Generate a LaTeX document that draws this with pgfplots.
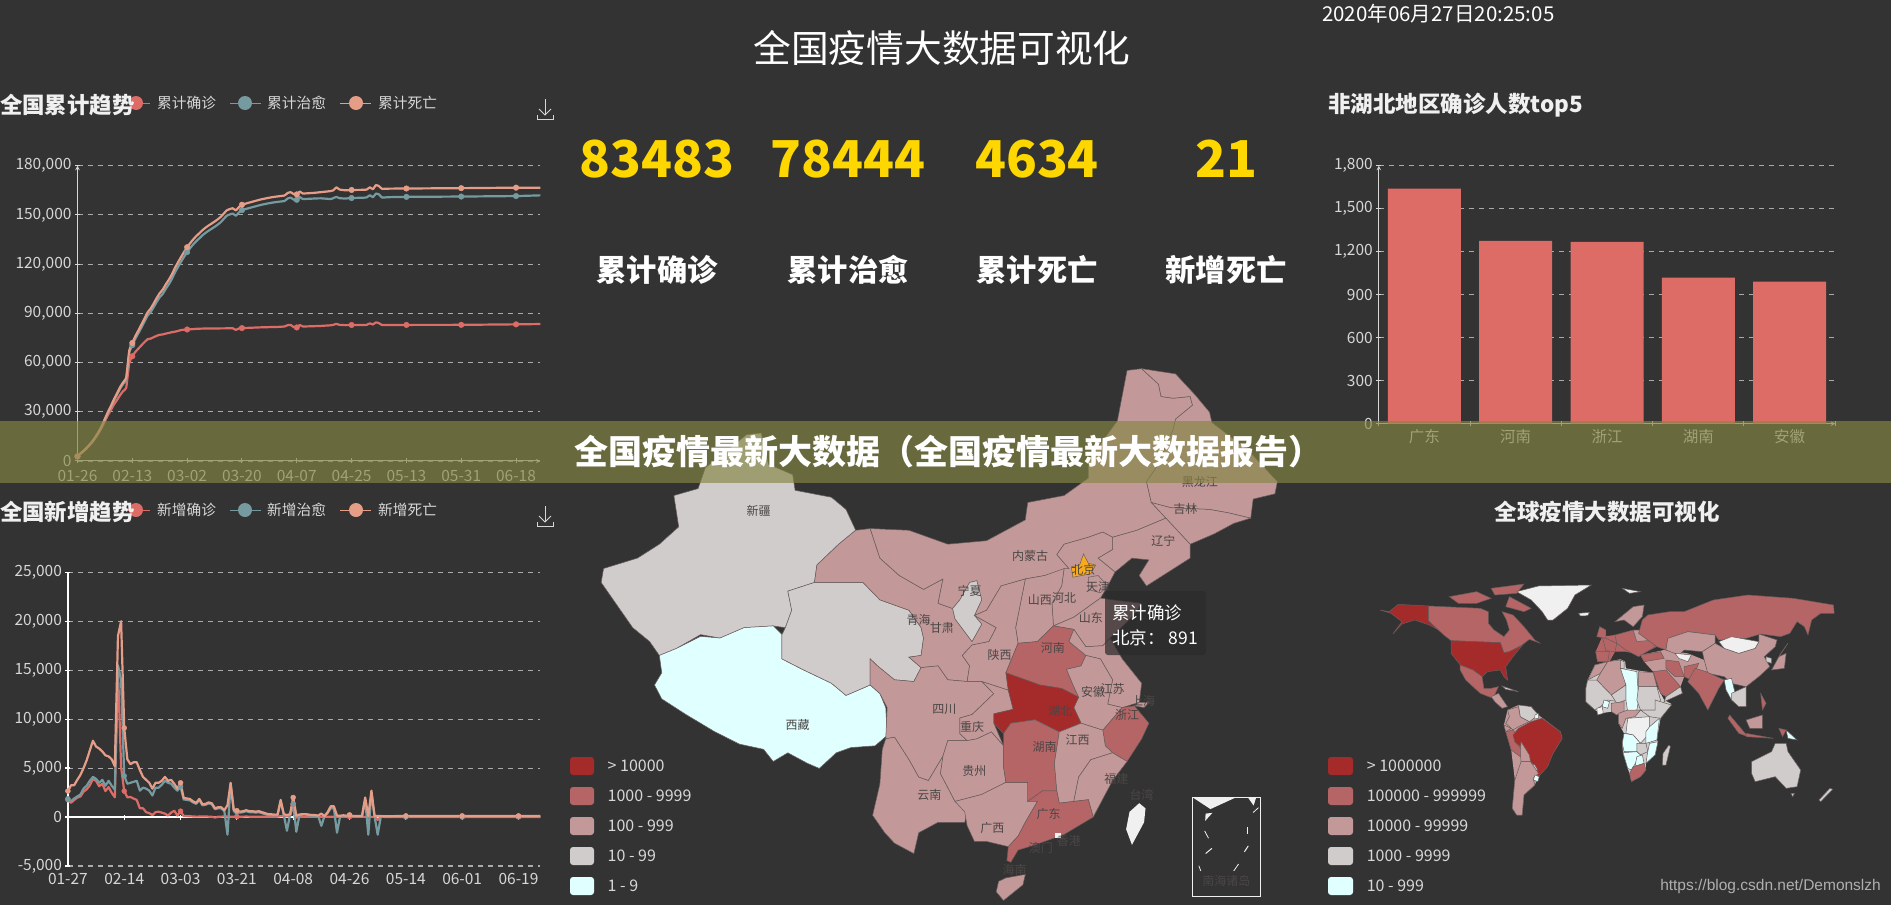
\documentclass[border=0pt]{standalone}
\usepackage{fontspec}
\usepackage{pgfplots}
\usepackage{pgfplotstable}
\pgfplotsset{compat=1.18}
\setmainfont{Noto Sans CJK SC}
\newfontfamily\urlfont{Liberation Sans}
\definecolor{bg}{RGB}{51,51,51}
\definecolor{cr}{HTML}{DD6B66}
\definecolor{ct}{HTML}{759AA0}
\definecolor{cd}{HTML}{E69D87}
\definecolor{gridc}{RGB}{170,170,170}
\definecolor{tk}{RGB}{215,215,215}
\definecolor{c1}{RGB}{165,42,42}
\definecolor{c2}{RGB}{181,101,101}
\definecolor{c3}{RGB}{194,152,152}
\definecolor{c4}{RGB}{208,204,204}
\definecolor{c5}{RGB}{224,255,255}
\definecolor{c0}{RGB}{240,240,240}
\definecolor{bd}{RGB}{105,92,92}
\definecolor{lbl}{RGB}{75,70,70}
\definecolor{gold}{RGB}{255,215,0}
\definecolor{bandc}{RGB}{134,134,68}

\pgfplotstableread{
i c t d
0 2744 2800 2856
1 4515 4580 4686
2 5974 6080 6212
3 7711 7830 8000
4 9692 9860 10073
5 11791 12040 12300
6 14380 14700 15004
7 17205 17680 18041
8 20438 21070 21495
9 24324 25200 25690
10 28018 29300 29863
11 31161 33000 33636
12 34546 37000 37722
13 37198 40500 41311
14 40171 44100 45008
15 42638 47000 48016
16 44653 49700 50813
17 59804 66000 67367
18 63851 70574 71954
19 66492 74588 76111
20 68500 77919 79584
21 70548 81392 83162
22 72436 84988 86856
23 74185 88561 90565
24 74576 90731 92849
25 75465 93729 95965
26 76288 96947 99292
27 76936 99824 102266
28 77150 101884 104476
29 77658 104981 107644
30 78064 107809 110524
31 78497 110992 113736
32 78824 114941 117729
33 79251 118253 121088
34 79824 121449 124319
35 80026 124488 127400
36 80151 127355 130298
37 80270 129800 132800
38 80409 132000 135050
39 80552 134000 137080
40 80651 135700 138800
41 80695 137500 140630
42 80735 139000 142150
43 80754 140300 143480
44 80778 141500 144700
45 80793 142700 145900
46 80813 144000 147230
47 80824 145500 148740
48 80844 147500 150750
49 80860 149500 152760
50 80881 150300 153560
51 80894 150800 154050
52 79900 149500 152750
53 80800 151500 154780
54 81000 152900 156200
56 81150 154000 157300
58 81300 155000 158320
60 81450 156000 159330
62 81550 156800 160130
64 81650 157500 160840
66 81750 158000 161340
68 82000 158500 161850
69 82800 160000 163350
70 82900 160500 163850
71 81600 159300 162650
72 81400 159200 162500
73 82900 160900 164250
74 82000 159700 163050
78 82200 160000 163500
80 82350 160100 163900
83 82700 159700 164500
84 83000 160200 165000
85 83600 161000 166800
86 83000 160200 165500
88 82800 160000 165000
90 82900 160300 165200
94 82950 160500 165300
95 83000 160700 165500
96 83900 162000 166800
97 83200 160800 165700
98 84500 163000 168200
99 84000 162500 167500
100 82900 160600 165900
102 82900 160800 166000
108 82950 161000 166100
126 83000 161200 166300
144 83300 161500 166600
152 83483 161927 166561
}\cumtable

\pgfplotstableread{
i c t d
0 1771 1870 2650
1 1459 1600 3250
2 1737 1900 3250
3 1982 2100 3800
4 2102 2300 4300
5 2590 2900 5000
6 2829 3200 5800
7 3235 3700 6800
8 3887 4100 7800
9 3694 3900 7200
10 3143 3500 7000
11 3399 3800 6700
12 2656 3200 6300
13 3062 3700 6200
14 2478 3200 5900
15 2015 2800 5200
16 15152 15500 18500
17 5090 14000 20000
18 2650 4200 9100
19 2009 3400 5900
20 2048 3500 5400
21 1886 3600 5600
22 1749 3700 5600
23 891 2700 4800
24 900 3000 4100
25 500 2900 3800
26 400 2700 3500
27 200 2200 2900
28 500 3000 3500
29 550 3000 3500
30 450 3300 3700
31 350 3700 4100
32 150 3500 3700
33 450 3400 3800
34 650 3000 3400
35 150 2700 2900
36 600 3100 3500
37 100 1800 1950
38 100 1750 1900
39 80 1700 1850
40 60 1500 1600
41 40 1350 1450
42 50 1750 1850
43 50 1200 1300
44 60 1250 1350
45 40 1400 1500
46 30 1300 1400
47 -50 800 900
48 30 900 1000
49 40 900 1000
50 60 600 700
51 50 -1800 1200
52 40 3400 3500
53 30 600 750
54 40 500 650
55 40 450 550
56 40 500 600
57 50 600 700
58 40 500 600
59 40 500 600
60 40 450 550
61 40 500 600
62 40 400 500
63 40 300 400
64 40 200 300
65 40 180 280
66 40 180 250
67 40 180 250
68 90 1600 1750
69 90 200 300
70 80 -1400 200
71 70 250 300
72 1300 1350 2000
73 -60 -1500 150
74 40 200 250
75 40 250 300
76 40 250 300
77 30 180 250
78 30 150 200
79 30 100 200
80 30 100 150
81 30 -900 350
82 30 100 100
83 30 400 500
84 30 900 1100
85 30 900 1100
86 20 -1600 150
87 20 100 130
88 20 100 180
89 20 100 130
90 30 150 220
91 20 100 120
92 20 80 120
93 20 80 110
94 20 80 100
95 20 1800 2000
96 20 -1800 100
97 20 2500 2700
98 20 80 100
99 -300 -1800 100
100 20 50 100
102 10 30 80
108 15 40 120
120 10 30 100
126 10 30 120
138 10 30 100
144 15 50 120
151 10 30 100
}\newtable

\newcommand{\fs}[1]{\fontsize{#1}{#1}\selectfont}
\newcommand{\reg}[2]{\addplot[fill=#1,draw=bd,line width=.5pt] coordinates {#2} --cycle;}
\newcommand{\base}[2]{\addplot[fill=#1,draw=none] coordinates {#2} --cycle;}
\newcommand{\lab}[3]{\node[font=\fs{12},text=lbl,inner sep=0pt] at (axis cs:#1,#2) {#3};}

\pgfplotsset{
  dash/.style={
    scale only axis, clip=false,
    scaled ticks=false,
    axis line style={draw=tk,-,line width=1pt},
    tick style={draw=tk,line width=1pt},
    major tick length=5pt,
    tick align=outside,
    tick label style={font=\fs{15.5},text=tk},
    ymajorgrids,
    y grid style={draw=gridc,line width=1.1pt,dash pattern=on 5pt off 5pt},
  },
  page/.style={
    scale only axis, hide axis, clip=false,
    y dir=reverse,
  },
}

\begin{document}
\begin{tikzpicture}
\path[use as bounding box] (0,0) rectangle (1891pt,905pt);
\fill[bg] (0,0) rectangle (1891pt,905pt);

% ---------- cumulative trend
\begin{axis}[dash, at={(77.5pt,444pt)}, anchor=south west,
  width=462.9pt, height=295.3pt,
  xmin=0, xmax=152, ymin=0, ymax=180000,
  axis x line=bottom, axis y line=left,
  xtick={0,18,36,54,72,90,108,126,144},
  xticklabels={01-26,02-13,03-02,03-20,04-07,04-25,05-13,05-31,06-18},
  ytick={0,30000,60000,90000,120000,150000,180000},
  yticklabels={0,{30,000},{60,000},{90,000},{120,000},{150,000},{180,000}},
  xticklabel style={yshift=-3pt}]
\addplot[cr,line width=2.2pt,line join=round,smooth,tension=.25] table[x=i,y=c] {\cumtable};
\addplot[ct,line width=2.2pt,line join=round,smooth,tension=.25] table[x=i,y=t] {\cumtable};
\addplot[cd,line width=2.2pt,line join=round,smooth,tension=.25] table[x=i,y=d] {\cumtable};
\addplot[only marks,mark=*,mark size=2.8pt,cr] coordinates {(0,2744)(18,63851)(36,80151)(54,81000)(72,81400)(90,82900)(108,82950)(126,83000)(144,83300)};
\addplot[only marks,mark=*,mark size=2.8pt,ct] coordinates {(0,2800)(18,70574)(36,127355)(54,152900)(72,159200)(90,160300)(108,161000)(126,161200)(144,161500)};
\addplot[only marks,mark=*,mark size=2.8pt,cd] coordinates {(0,2856)(18,71954)(36,130298)(54,156200)(72,162500)(90,165200)(108,166100)(126,166300)(144,166600)};
\end{axis}

% ---------- daily new trend
\begin{axis}[dash, at={(67.9pt,39pt)}, anchor=south west,
  width=472.5pt, height=293.7pt,
  xmin=0, xmax=151, ymin=-5000, ymax=25000,
  axis x line=middle, axis y line=left,
  hide obscured x ticks=false,
  xtick={0,18,36,54,72,90,108,126,144},
  xticklabels={01-27,02-14,03-03,03-21,04-08,04-26,05-14,06-01,06-19},
  ytick={-5000,0,5000,10000,15000,20000,25000},
  yticklabels={{-5,000},0,{5,000},{10,000},{15,000},{20,000},{25,000}},
  axis line style={draw=white,-,line width=1.2pt},
  tick style={draw=white,line width=1.2pt},
  xticklabel style={yshift=-50pt}]
\addplot[cr,line width=2.2pt,line join=round] table[x=i,y=c] {\newtable};
\addplot[ct,line width=2.2pt,line join=round] table[x=i,y=t] {\newtable};
\addplot[cd,line width=2.2pt,line join=round] table[x=i,y=d] {\newtable};
\addplot[only marks,mark=*,mark size=2.5pt,cr] coordinates {(0,1771)(18,2650)(36,600)(54,40)(72,1300)(90,30)(108,15)(126,10)(144,15)};
\addplot[only marks,mark=*,mark size=2.5pt,ct] coordinates {(0,1870)(18,4200)(36,3100)(54,500)(72,1350)(90,150)(108,40)(126,30)(144,50)};
\addplot[only marks,mark=*,mark size=2.5pt,cd] coordinates {(0,2650)(18,9100)(36,3500)(54,650)(72,2000)(90,220)(108,120)(126,120)(144,120)};
\end{axis}

% ---------- top 5 bars
\begin{axis}[dash, at={(1378.8pt,481.3pt)}, anchor=south west,
  width=456.4pt, height=258pt,
  xmin=-0.5, xmax=4.5, ymin=0, ymax=1800,
  axis x line=bottom, axis y line=left,
  xtick={0,1,2,3,4},
  xticklabels={广东,河南,浙江,湖南,安徽},
  major x tick style={draw=none},
  minor xtick={-0.5,0.5,1.5,2.5,3.5,4.5},
  minor tick length=5pt,
  minor x tick style={draw=tk,line width=1pt},
  ytick={0,300,600,900,1200,1500,1800},
  yticklabels={0,300,600,900,{1,200},{1,500},{1,800}}]
\addplot[ybar,bar width=73pt,bar shift=0pt,fill=cr,draw=none] coordinates {(0,1640)(1,1276)(2,1269)(3,1019)(4,991)};
\end{axis}

% ---------- China map (coordinates in a 1568 x 1568 frame over the panel)
\begin{axis}[page, at={(560pt,0pt)}, anchor=south west,
  width=760pt, height=545pt, xmin=0, xmax=1568, ymin=0, ymax=1568]
\reg{c4}{(285,370) (300,310) (385,215) (415,210) (430,300) (480,330) (485,375) (560,395) (590,430) (610,490) (575,530) (530,590) (525,640) (470,665) (478,720) (465,770) (440,765) (380,770) (330,800) (290,790) (240,830) (205,850) (185,810) (150,770) (110,690) (85,640) (90,600) (160,570) (205,530) (245,480) (235,390)}
\reg{c5}{(205,850) (240,830) (290,795) (330,800) (380,770) (440,765) (458,790) (458,860) (500,890) (560,930) (590,965) (640,935) (660,960) (672,1000) (675,1080) (650,1110) (600,1115) (570,1130) (535,1175) (510,1160) (470,1130) (440,1155) (420,1120) (370,1105) (320,1070) (260,1020) (210,975) (195,935) (210,900)}
\reg{c4}{(470,665) (525,640) (625,640) (660,690) (720,720) (745,770) (750,800) (745,850) (720,855) (745,885) (730,925) (690,920) (655,880) (640,860) (640,935) (590,965) (560,930) (500,890) (458,860) (458,790) (465,770) (478,720)}
\reg{c3}{(610,490) (640,485) (660,570) (700,620) (750,660) (790,630) (780,700) (810,715) (815,745) (850,810) (870,760) (855,735) (900,770) (885,810) (850,820) (830,850) (845,880) (840,925) (800,920) (780,880) (745,885) (720,855) (745,850) (750,800) (745,770) (720,720) (660,690) (625,640) (525,640) (530,590) (575,530)}
\reg{c3}{(640,485) (720,490) (800,530) (880,520) (960,460) (965,410) (1040,390) (1090,340) (1090,290) (1150,175) (1170,30) (1200,25) (1235,70) (1240,105) (1265,110) (1300,105) (1305,130) (1270,170) (1265,200) (1230,310) (1210,350) (1220,410) (1250,455) (1190,490) (1140,510) (1120,495) (1090,510) (1040,530) (1025,560) (1050,600) (1000,620) (960,630) (910,650) (880,720) (855,735) (870,690) (860,635) (845,640) (825,690) (810,715) (780,700) (790,630) (750,660) (700,620) (660,570)}
\reg{c3}{(1200,25) (1270,40) (1310,100) (1340,150) (1345,180) (1420,260) (1480,350) (1475,385) (1430,400) (1425,455) (1380,440) (1340,430) (1260,425) (1220,410) (1210,350) (1230,310) (1265,200) (1270,170) (1305,130) (1300,105) (1265,110) (1240,105) (1235,70)}
\reg{c3}{(1220,410) (1260,425) (1340,430) (1380,440) (1425,455) (1390,470) (1350,500) (1300,530) (1250,455)}
\reg{c3}{(1140,510) (1190,490) (1250,455) (1300,530) (1300,570) (1210,650) (1195,620) (1215,575) (1180,570) (1145,610) (1110,570) (1140,545)}
\reg{c3}{(1040,530) (1090,510) (1120,495) (1140,510) (1140,545) (1110,570) (1145,610) (1130,650) (1115,685) (1060,740) (1018,765) (1015,700) (1035,650) (1040,600) (1050,600) (1025,560)}
\reg{c3}{(960,630) (1000,620) (1040,600) (1035,650) (1015,700) (1018,765) (985,810) (945,815) (940,770) (950,700)}
\reg{c3}{(1090,625) (1110,620) (1130,650) (1115,670) (1090,660)}
\reg{c3}{(1018,765) (1060,740) (1115,685) (1140,690) (1200,700) (1180,740) (1135,800) (1120,822) (1085,825) (1060,775)}
\reg{c4}{(845,640) (860,635) (870,690) (855,735) (870,760) (850,810) (815,745) (810,715) (825,690)}
\reg{c3}{(880,720) (910,650) (960,630) (950,700) (940,770) (945,815) (920,900) (925,950) (870,925) (840,925) (845,880) (830,850) (850,820) (885,810) (900,770) (855,735)}
\reg{c2}{(1018,765) (1060,775) (1050,810) (1085,850) (1075,880) (1045,890) (1060,940) (1070,970) (1035,945) (990,935) (920,900) (945,815) (985,810)}
\reg{c3}{(1085,825) (1120,822) (1135,800) (1160,860) (1200,930) (1195,985) (1160,1000) (1130,990) (1140,920) (1115,860) (1085,850) (1050,810) (1060,775)}
\reg{c3}{(1085,850) (1115,860) (1140,920) (1130,990) (1160,1000) (1120,1065) (1075,1045) (1060,1000) (1070,970) (1060,940) (1045,890) (1075,880)}
\reg{c3}{(1195,985) (1215,985) (1205,1000) (1185,995)}
\reg{c2}{(1160,1000) (1185,995) (1215,1045) (1200,1090) (1170,1155) (1140,1130) (1125,1110) (1120,1065)}
\reg{c3}{(640,860) (655,880) (690,920) (730,925) (745,885) (780,880) (800,920) (840,925) (870,925) (895,960) (880,980) (850,1020) (825,1030) (825,1075) (840,1095) (800,1095) (790,1140) (760,1210) (740,1200) (720,1150) (690,1085) (672,1090) (675,1000) (660,960) (640,935)}
\reg{c3}{(895,960) (870,925) (925,950) (935,1005) (895,1018) (895,1045) (915,1110) (890,1070) (860,1090) (840,1095) (825,1075) (825,1030) (850,1020) (880,980)}
\reg{c3}{(672,1090) (690,1085) (720,1150) (740,1200) (760,1210) (790,1140) (785,1190) (815,1270) (840,1300) (835,1330) (780,1330) (740,1360) (730,1420) (690,1390) (670,1360) (645,1310) (660,1220) (665,1120)}
\reg{c3}{(800,1095) (840,1095) (860,1090) (890,1070) (915,1110) (915,1170) (920,1215) (870,1250) (815,1270) (785,1190) (790,1140)}
\reg{c3}{(815,1270) (870,1250) (920,1215) (965,1215) (985,1270) (960,1330) (945,1370) (925,1400) (880,1385) (855,1385) (840,1340) (835,1300)}
\reg{c1}{(920,900) (990,935) (1035,945) (1070,970) (1060,1000) (1075,1045) (1030,1070) (980,1035) (930,1045) (915,1075) (895,1045) (895,1018) (935,1005) (925,950)}
\reg{c2}{(915,1075) (930,1045) (980,1035) (1030,1070) (1020,1160) (1025,1240) (995,1240) (965,1270) (965,1215) (920,1215) (915,1170) (915,1110)}
\reg{c3}{(1030,1070) (1075,1045) (1120,1065) (1125,1110) (1140,1130) (1095,1150) (1070,1200) (1060,1270) (1030,1275) (1025,1240) (1020,1160)}
\reg{c3}{(1140,1130) (1170,1155) (1140,1210) (1100,1315) (1090,1265) (1060,1270) (1070,1200) (1095,1150)}
\reg{c2}{(965,1270) (995,1240) (1025,1240) (1030,1275) (1060,1270) (1090,1265) (1100,1315) (1040,1365) (980,1395) (945,1410) (930,1445) (922,1440) (925,1400) (945,1370) (960,1330) (985,1270)}
\reg{c3}{(920,1490) (960,1480) (955,1510) (915,1555) (900,1530) (905,1500)}
\addplot[fill=c0,draw=none] coordinates {(1195,1275) (1208,1290) (1205,1330) (1180,1395) (1168,1350) (1175,1300)} --cycle;
\addplot[fill=c0,draw=none] coordinates {(1022,1362) (1033,1362) (1033,1374) (1022,1374)} --cycle;
\addplot[fill={rgb,255:red,250;green,170;blue,25},draw=bd,line width=.5pt] coordinates {(1058,625) (1055,595) (1072,590) (1080,558) (1090,585) (1105,590) (1095,615)} --cycle;
% South China Sea inset
\addplot[draw=c0,line width=.8pt] coordinates {(1305,1258) (1445,1258) (1445,1543) (1305,1543)} --cycle;
\addplot[fill=c0,draw=none] coordinates {(1307,1260) (1392,1260) (1342,1292)} --cycle;
\addplot[fill=c0,draw=none] coordinates {(1420,1260) (1436,1260) (1431,1282)} --cycle;
\addplot[fill=c0,draw=none] coordinates {(1332,1305) (1346,1303) (1331,1326)} --cycle;
\addplot[c0,line width=.8pt] coordinates {(1430,1302) (1441,1288)};
\addplot[c0,line width=1.4pt] coordinates {(1418,1345) (1418,1365)};
\addplot[c0,line width=.8pt] coordinates {(1330,1355) (1338,1376)};
\addplot[c0,line width=1pt] coordinates {(1345,1405) (1332,1420)};
\addplot[c0,line width=1pt] coordinates {(1420,1398) (1412,1415)};
\addplot[c0,line width=.8pt] coordinates {(1318,1455) (1322,1470)};
\addplot[c0,line width=.8pt] coordinates {(1400,1450) (1390,1470)};
\lab{410}{435}{新疆}\lab{490}{1050}{西藏}\lab{740}{748}{青海}\lab{788}{770}{甘肃}
\lab{845}{665}{宁夏}\lab{970}{565}{内蒙古}\lab{1080}{603}{北京}\lab{1110}{652}{天津}
\lab{1040}{685}{河北}\lab{990}{690}{山西}\lab{1095}{743}{山东}\lab{1017}{828}{河南}
\lab{907}{850}{陕西}\lab{793}{1005}{四川}\lab{850}{1057}{重庆}\lab{1032}{1010}{湖北}
\lab{1100}{955}{安徽}\lab{1140}{945}{江苏}\lab{1203}{980}{上海}\lab{1170}{1022}{浙江}
\lab{1000}{1112}{湖南}\lab{1068}{1093}{江西}\lab{855}{1183}{贵州}\lab{762}{1250}{云南}
\lab{892}{1345}{广西}\lab{1008}{1305}{广东}\lab{1148}{1205}{福建}\lab{1200}{1250}{台湾}
\lab{1050}{1385}{香港}\lab{992}{1403}{澳门}\lab{938}{1467}{海南}\lab{1245}{520}{辽宁}
\lab{1290}{430}{吉林}\lab{1320}{350}{黑龙江}\lab{1375}{1500}{南海诸岛}
\end{axis}

% ---------- world map (coordinates in a 1568 x 1275 frame over the panel)
\begin{axis}[page, at={(1320pt,0pt)}, anchor=south west,
  width=571pt, height=425pt, xmin=0, xmax=1568, ymin=0, ymax=1275]
\base{c4}{(735,600) (755,555) (790,545) (825,538) (838,545) (840,565) (875,572) (915,578) (925,620) (945,660) (965,672) (935,715) (925,780) (928,785) (920,825) (895,850) (895,870) (880,890) (855,905) (850,880) (845,865) (832,818) (830,790) (835,760) (820,730) (820,700) (800,695) (770,700) (755,690) (730,665) (730,625)}
\base{c3}{(515,690) (545,675) (600,705) (660,755) (665,775) (640,820) (600,890) (590,915) (560,945) (555,1005) (540,1005) (528,985) (535,900) (525,810) (505,735)}
\base{c2}{(757,515) (775,470) (810,465) (875,460) (900,480) (925,500) (880,525) (860,520) (840,515) (810,515) (795,545) (762,545)}
\base{c3}{(880,525) (945,510) (1010,520) (1055,540) (1065,580) (1030,565) (1000,590) (990,620) (950,650) (935,640) (915,575) (890,545)}
\reg{c1}{(215,373) (298,378) (298,422) (335,455) (300,435) (260,420) (225,432) (200,462) (225,425) (195,400) (165,390) (190,395)}
\reg{c2}{(298,378) (440,385) (462,395) (462,430) (478,450) (505,470) (520,450) (512,420) (500,395) (530,405) (560,440) (590,480) (605,490) (575,478) (555,495) (520,515) (505,518) (495,488) (360,482) (340,465) (298,422)}
\reg{c2}{(355,350) (430,335) (470,355) (430,370) (380,370)}
\reg{c2}{(470,325) (560,312) (540,340) (480,345)}
\reg{c2}{(520,350) (580,385) (560,395) (510,380)}
\reg{c0}{(540,335) (600,318) (745,315) (700,345) (680,385) (640,420) (625,420) (610,395) (580,360)}
\reg{c1}{(360,482) (495,488) (505,518) (520,515) (555,497) (530,530) (510,560) (515,600) (505,590) (495,570) (460,575) (445,590) (420,570) (385,555) (360,520)}
\reg{c2}{(385,555) (420,570) (445,590) (450,625) (470,625) (490,620) (475,655) (440,640) (400,600) (385,570)}
\reg{c3}{(470,650) (490,640) (515,680) (500,685) (480,665)}
\reg{c4}{(500,618) (545,635) (510,628)}
\reg{c3}{(515,690) (545,680) (550,710) (575,725) (545,740) (530,750) (510,730) (520,710)}
\reg{c4}{(545,675) (580,680) (600,705) (575,725) (550,710)}
\reg{c5}{(590,705) (600,700) (600,715) (590,717)}
\reg{c3}{(505,735) (525,745) (510,755)}
\reg{c2}{(510,755) (530,750) (545,770) (535,785) (555,810) (550,830) (525,810)}
\reg{c1}{(545,745) (580,725) (610,715) (660,755) (665,775) (640,820) (625,860) (600,890) (590,870) (570,845) (550,800) (535,785) (530,765)}
\reg{c3}{(552,785) (575,825) (578,845) (552,845) (550,815)}
\reg{c4}{(570,845) (590,855) (598,870) (580,875)}
\reg{c3}{(552,845) (578,845) (600,880) (585,895) (590,915) (560,945) (555,1005) (540,1005) (528,985) (535,900)}
\reg{c5}{(590,885) (602,890) (598,905) (586,900)}
\reg{c3}{(755,555) (790,545) (770,580) (735,600)}
\reg{c3}{(790,545) (825,540) (840,615) (800,645) (760,600) (770,580)}
\reg{c4}{(825,540) (835,545) (835,565) (825,565)}
\reg{c5}{(825,565) (870,575) (875,660) (870,690) (845,695) (840,660) (840,615)}
\reg{c3}{(875,575) (915,578) (925,620) (875,620)}
\reg{c4}{(875,620) (925,620) (935,660) (920,690) (880,690) (870,660)}
\reg{c4}{(735,600) (760,600) (800,645) (820,665) (790,660) (770,680) (755,690) (730,665) (730,625)}
\reg{c4}{(800,645) (840,615) (840,660) (815,670)}
\reg{c3}{(800,670) (835,665) (835,695) (815,705) (800,695)}
\reg{c0}{(760,685) (775,680) (778,700) (762,705)}
\reg{c5}{(780,660) (795,665) (790,685) (775,680)}
\reg{c3}{(820,700) (845,690) (880,690) (865,710) (840,715) (830,745) (820,730)}
\reg{c0}{(845,715) (905,710) (905,760) (880,790) (860,765) (840,760)}
\reg{c4}{(920,660) (965,675) (935,715) (905,710) (880,690) (920,690)}
\reg{c5}{(905,740) (932,715) (925,780) (895,790) (895,755)}
\reg{c5}{(835,760) (860,765) (880,790) (870,815) (835,815) (830,790)}
\reg{c4}{(870,790) (895,790) (900,815) (880,825) (870,815)}
\reg{c5}{(905,790) (928,785) (920,825) (895,850) (900,815)}
\reg{c5}{(832,818) (870,815) (880,825) (855,870) (845,865)}
\reg{c5}{(870,830) (885,825) (890,850) (865,860)}
\reg{c2}{(850,880) (860,860) (890,850) (895,870) (880,890) (855,905)}
\reg{c4}{(958,795) (962,800) (950,855) (940,855) (942,820)}
\reg{c2}{(757,515) (795,515) (790,545) (762,545)}
\reg{c2}{(775,470) (815,490) (810,515) (785,512)}
\reg{c2}{(768,440) (785,450) (785,475) (760,470)}
\reg{c3}{(810,425) (860,380) (890,375) (885,410) (860,440) (835,420)}
\reg{c2}{(810,465) (860,450) (900,450) (920,500) (875,530) (840,510) (815,490)}
\reg{c3}{(860,450) (900,450) (915,480) (870,485)}
\reg{c2}{(880,525) (935,515) (945,535) (890,545)}
\reg{c2}{(875,460) (885,420) (900,405) (960,395) (1000,395) (1080,360) (1175,345) (1300,355) (1410,375) (1412,400) (1375,400) (1350,420) (1340,465) (1330,440) (1310,425) (1290,460) (1265,470) (1210,462) (1170,475) (1095,480) (1085,465) (1010,455) (955,475) (950,510) (925,500) (900,480)}
\reg{c3}{(955,475) (1010,455) (1085,465) (1085,490) (1050,515) (1000,510) (985,525) (950,510)}
\reg{c3}{(1050,515) (1085,490) (1110,505) (1150,520) (1195,505) (1205,485) (1205,462) (1255,480) (1250,500) (1220,530) (1235,560) (1205,590) (1170,620) (1130,610) (1110,590) (1065,580) (1055,540)}
\reg{c0}{(1095,485) (1130,470) (1170,478) (1205,485) (1195,505) (1150,520) (1110,505)}
\reg{c0}{(975,520) (1020,525) (1010,545) (985,535)}
\reg{c2}{(950,540) (985,545) (1000,590) (975,590) (950,565)}
\reg{c2}{(915,575) (950,570) (990,620) (950,650) (935,640)}
\reg{c4}{(990,620) (995,640) (945,665) (950,650)}
\reg{c2}{(1000,560) (1040,550) (1020,600) (1000,590)}
\reg{c2}{(1030,565) (1060,575) (1110,600) (1095,625) (1065,690) (1040,640) (1010,605)}
\reg{c5}{(1110,600) (1130,595) (1140,640) (1130,660) (1115,630)}
\reg{c4}{(1130,640) (1170,620) (1170,680) (1150,680) (1130,660)}
\reg{c2}{(1125,705) (1175,770) (1150,760) (1120,715)}
\reg{c2}{(1170,760) (1245,775) (1170,770)}
\reg{c3}{(1170,720) (1215,705) (1215,745) (1180,745)}
\reg{c2}{(1260,745) (1280,750) (1270,770)}
\reg{c5}{(1280,750) (1310,780) (1285,775)}
\reg{c2}{(1210,640) (1225,670) (1215,690)}
\reg{c3}{(1285,490) (1260,530) (1280,520) (1275,565) (1240,570) (1265,520)}
\reg{c4}{(1225,530) (1240,535) (1240,550) (1225,545)}
\reg{c4}{(1185,845) (1240,815) (1250,790) (1280,790) (1285,815) (1320,870) (1310,920) (1280,925) (1250,890) (1195,905) (1185,880)}
\reg{c4}{(1400,925) (1408,928) (1375,965) (1370,960)}
\reg{c4}{(1293,940) (1303,940) (1298,950)}
\reg{c0}{(710,400) (740,397) (735,407) (715,408)}
\reg{c0}{(830,325) (880,335) (850,340)}
\end{axis}

% ---------- page furniture, in reference pixel coordinates
\begin{axis}[page, at={(0pt,0pt)}, anchor=south west,
  width=1891pt, height=905pt, xmin=0, xmax=1891, ymin=0, ymax=905]
% legends of the two line charts
\foreach \yy in {103,510}{
  \edef\tmp{\noexpand\draw[cr,line width=1pt] (axis cs:128,\yy) -- (axis cs:150,\yy);
  \noexpand\fill[cr] (axis cs:136,\yy) circle (7pt);
  \noexpand\draw[ct,line width=1pt] (axis cs:230,\yy) -- (axis cs:261,\yy);
  \noexpand\fill[ct] (axis cs:245,\yy) circle (7pt);
  \noexpand\draw[cd,line width=1pt] (axis cs:340,\yy) -- (axis cs:371,\yy);
  \noexpand\fill[cd] (axis cs:356,\yy) circle (7pt);
  \noexpand\draw[tk,line width=1pt] (axis cs:537,\the\numexpr\yy+12\relax) -- (axis cs:537,\the\numexpr\yy+16\relax) -- (axis cs:553,\the\numexpr\yy+16\relax) -- (axis cs:553,\the\numexpr\yy+12\relax);
  \noexpand\draw[tk,line width=1pt] (axis cs:545,\the\numexpr\yy-4\relax) -- (axis cs:545,\the\numexpr\yy+12\relax);
  \noexpand\draw[tk,line width=1pt] (axis cs:539,\the\numexpr\yy+6\relax) -- (axis cs:545,\the\numexpr\yy+12\relax) -- (axis cs:551,\the\numexpr\yy+6\relax);
  }\tmp
}
\node[anchor=west,inner sep=0pt,font=\fs{14.7},text=tk] at (axis cs:157,103) {累计确诊};
\node[anchor=west,inner sep=0pt,font=\fs{14.7},text=tk] at (axis cs:267,103) {累计治愈};
\node[anchor=west,inner sep=0pt,font=\fs{14.7},text=tk] at (axis cs:378,103) {累计死亡};
\node[anchor=west,inner sep=0pt,font=\fs{14.7},text=tk] at (axis cs:157,510) {新增确诊};
\node[anchor=west,inner sep=0pt,font=\fs{14.7},text=tk] at (axis cs:267,510) {新增治愈};
\node[anchor=west,inner sep=0pt,font=\fs{14.7},text=tk] at (axis cs:378,510) {新增死亡};
% panel titles
\node[anchor=west,inner sep=0pt,font=\fs{22.4}\bfseries,text=c0] at (axis cs:0,105) {全国累计趋势};
\node[anchor=west,inner sep=0pt,font=\fs{22.4}\bfseries,text=c0] at (axis cs:0,512) {全国新增趋势};
\node[anchor=west,inner sep=0pt,font=\fs{22.5}\bfseries,text=c0] at (axis cs:1328,105) {非湖北地区确诊人数top5};
\node[inner sep=0pt,font=\fs{22.5}\bfseries,text=c0] at (axis cs:1607,512) {全球疫情大数据可视化};
\node[inner sep=0pt,font=\fs{37.7},text=white] at (axis cs:942,48) {全国疫情大数据可视化};
\node[anchor=west,inner sep=0pt,font=\fs{20.5},text=white] at (axis cs:1322,14) {2020年06月27日20:25:05};
% headline figures
\node[inner sep=0pt,font=\fs{50.8}\bfseries,text=gold] at (axis cs:657,159) {83483};
\node[inner sep=0pt,font=\fs{50.8}\bfseries,text=gold] at (axis cs:848,159) {78444};
\node[inner sep=0pt,font=\fs{50.8}\bfseries,text=gold] at (axis cs:1037,159) {4634};
\node[inner sep=0pt,font=\fs{50.8}\bfseries,text=gold] at (axis cs:1226,159) {21};
\node[inner sep=0pt,font=\fs{30.3}\bfseries,text=white] at (axis cs:657,270) {累计确诊};
\node[inner sep=0pt,font=\fs{30.3}\bfseries,text=white] at (axis cs:848,270) {累计治愈};
\node[inner sep=0pt,font=\fs{30.3}\bfseries,text=white] at (axis cs:1037,270) {累计死亡};
\node[inner sep=0pt,font=\fs{30.3}\bfseries,text=white] at (axis cs:1226,270) {新增死亡};
% map legends
\foreach \c/\yy/\t in {c1/766/{> 10000},c2/796/{1000 - 9999},c3/826/{100 - 999},c4/856/{10 - 99},c5/886/{1 - 9}}{
  \edef\tmp{\noexpand\fill[\c,rounded corners=3pt] (axis cs:570,\the\numexpr\yy-9\relax) rectangle (axis cs:594,\the\numexpr\yy+9\relax);
  \noexpand\node[anchor=west,inner sep=0pt,font=\noexpand\fs{16},text=tk] at (axis cs:607.5,\yy) {\t};}\tmp
}
\foreach \c/\yy/\t in {c1/766/{> 1000000},c2/796/{100000 - 999999},c3/826/{10000 - 99999},c4/856/{1000 - 9999},c5/886/{10 - 999}}{
  \edef\tmp{\noexpand\fill[\c,rounded corners=3pt] (axis cs:1328,\the\numexpr\yy-9\relax) rectangle (axis cs:1353,\the\numexpr\yy+9\relax);
  \noexpand\node[anchor=west,inner sep=0pt,font=\noexpand\fs{16},text=tk] at (axis cs:1366.6,\yy) {\t};}\tmp
}
% tooltip
\fill[bg!85!black,opacity=.72,rounded corners=3pt] (axis cs:1105,591) rectangle (axis cs:1206,655);
\node[anchor=west,inner sep=0pt,font=\fs{17.5},text=white] at (axis cs:1112,613) {累计确诊};
\node[anchor=west,inner sep=0pt,font=\fs{17.5},text=white] at (axis cs:1112,638) {北京： 891};
% watermark
\node[anchor=east,inner sep=0pt,font=\urlfont\fs{15.5},text={rgb,255:red,175;green,175;blue,175}] at (axis cs:1881,886) {https://blog.csdn.net/Demonslzh};
% banner
\fill[bandc,opacity=.65] (axis cs:0,421) rectangle (axis cs:1891,482.5);
\node[inner sep=0pt,font=\fs{34}\bfseries,text=white] at (axis cs:948,452) {全国疫情最新大数据（全国疫情最新大数据报告）};
\end{axis}
\end{tikzpicture}
\end{document}
